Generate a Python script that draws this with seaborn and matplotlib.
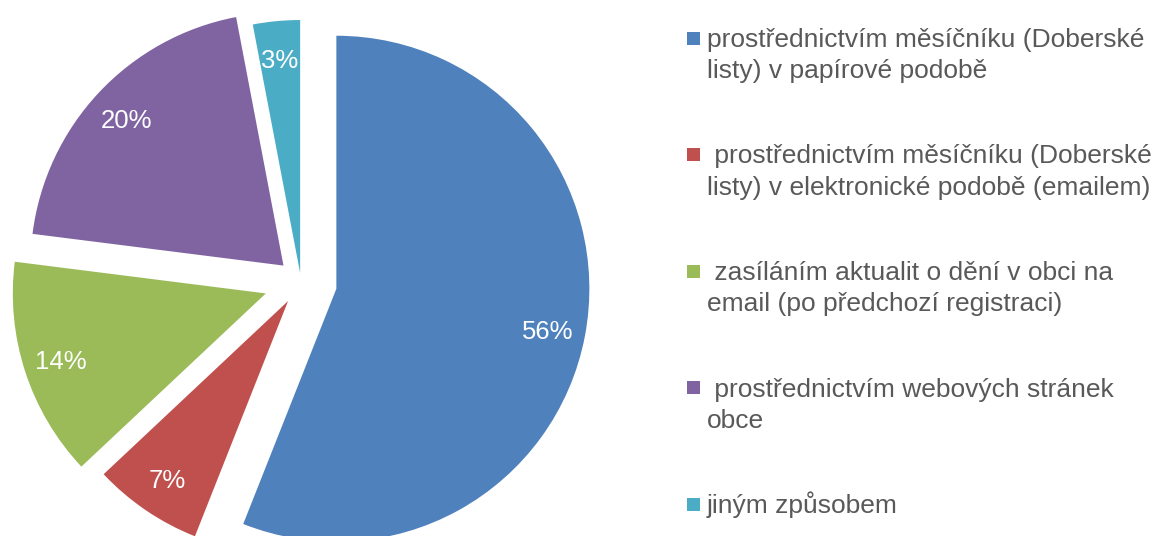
import matplotlib
matplotlib.use("Agg")
import matplotlib.pyplot as plt
import seaborn as sns
from matplotlib.patches import Rectangle

categories = [
    "prostřednictvím měsíčníku (Doberské\nlisty) v papírové podobě",
    " prostřednictvím měsíčníku (Doberské\nlisty) v elektronické podobě (emailem)",
    " zasíláním aktualit o dění v obci na\nemail (po předchozí registraci)",
    " prostřednictvím webových stránek\nobce",
    "jiným způsobem",
]
shares = [56, 7, 14, 20, 3]
colors = ["#4F81BD", "#C0504D", "#9BBB59", "#8064A2", "#4BACC6"]

sns.set_style("white")
plt.rcParams["font.family"] = ["Liberation Sans", "DejaVu Sans"]

W, H = 1159, 536
fig = plt.figure(figsize=(W / 100, H / 100), dpi=100)
ax = fig.add_axes([0, 0, 1, 1])

# pixel-ish coordinate system, y going up; explode is in data units here
wedges, _, pcts = ax.pie(
    shares,
    colors=colors,
    startangle=90,
    counterclock=False,
    explode=[36, 23, 37, 24, 9],
    radius=253,
    center=(301, H - 282),
    autopct=lambda p: f"{p:.0f}%",
    pctdistance=0.85,
    wedgeprops=dict(linewidth=0),
    textprops=dict(color="white", fontsize=18.5),
)
for t in pcts:
    t.set_va("center_baseline")
ax.set_xlim(0, W)
ax.set_ylim(0, H)
ax.set_aspect("equal")
ax.axis("off")

# legend drawn by hand so the square sits on the first line
text_color = "#595959"
for i, (label, col) in enumerate(zip(categories, colors)):
    yc = 38 + i * 116.5
    ax.add_patch(Rectangle((687, H - yc - 6.5), 13, 13, color=col, lw=0))
    for j, line in enumerate(label.split("\n")):
        ax.text(707, H - (yc + 9 + j * 31), line, fontsize=19,
                color=text_color, ha="left", va="baseline")

fig.savefig("out.png", dpi=100)
